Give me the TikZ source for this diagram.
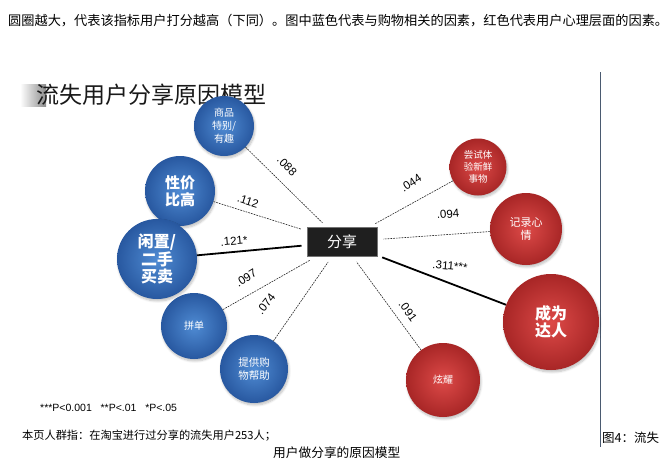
\documentclass[tikz,border=0pt]{standalone}
\usepackage{fontspec}
\setmainfont{Noto Sans CJK SC}
\newfontfamily\latf{Liberation Sans}
\usetikzlibrary{shadows.blur}
\definecolor{blueL}{HTML}{4F8BD3}
\definecolor{blueD}{HTML}{2858A0}
\definecolor{redL}{HTML}{DD4A48}
\definecolor{redD}{HTML}{A82626}
\definecolor{vline}{HTML}{4A5A70}
\newcommand\fsz[2]{\fontsize{#1}{#2}\selectfont}
\begin{document}
\begin{tikzpicture}[x=1pt,y=-1pt,
  ball/.style={circle, inner sep=0pt, text=white, align=center,
     blur shadow={shadow blur steps=6, shadow xshift=1pt, shadow yshift=-2pt, shadow opacity=25}},
  bluec/.style={ball, inner color=blueL, outer color=blueD, minimum size=#1},
  redc/.style={ball, inner color=redL, outer color=redD, minimum size=#1},
  weak/.style={draw=black!85, line width=0.6pt, dash pattern=on 1.8pt off 1pt, shorten >=6pt},
  strong/.style={draw=black, line width=1.8pt, shorten >=5pt},
  lab/.style={font=\latf\fsz{11.5}{13}, inner sep=0pt},
  txt/.style={inner sep=0pt, anchor=west}
]
\useasboundingbox (0,0) rectangle (667,474);

% header text
\node[txt, font=\fsz{13.2}{15}] (hdr) at (8,21) {圆圈越大，代表该指标用户打分越高（下同）。图中蓝色代表与购物相关的因素，红色代表用户心理层面的因素。};

% title with grey brush stroke
\fill[left color=white, right color=black!45] (20,84) rectangle (46,106);
\node[txt, font=\fsz{23}{25}, text=black!90] (title) at (36,95) {流失用户分享原因模型};

% vertical rule
\draw[vline, line width=1pt] (600,72) -- (600,447);

% centre box
\node[draw=black!55, line width=1pt, fill=black!88, text=white, font=\fsz{15}{17},
      minimum width=70pt, minimum height=29pt, inner sep=0pt] (box) at (342,242) {分享};

% blue circles
\node[bluec=60pt, font=\fsz{10}{13}] (c1) at (224,126) {商品\\特别/\\有趣};
\node[bluec=70pt, font=\bfseries\fsz{15}{17}] (c2) at (180,191) {性价\\比高};
\node[bluec=80pt, font=\bfseries\fsz{16}{17.5}] (c3) at (157,259) {闲置/\\二手\\买卖};
\node[bluec=66pt, font=\fsz{10}{13}] (c4) at (194,326) {拼单};
\node[bluec=68pt, font=\fsz{10.5}{13}] (c5) at (254,369) {提供购\\物帮助};

% red circles
\node[redc=57pt, font=\fsz{9.5}{12}] (c6) at (478,167) {尝试体\\验新鲜\\事物};
\node[redc=72pt, font=\fsz{11}{13}] (c7) at (526,229) {记录心\\情};
\node[redc=96pt, font=\bfseries\fsz{16}{17.5}] (c8) at (551,322) {成为\\达人};
\node[redc=74pt, font=\fsz{10}{13}] (c9) at (443,380) {炫耀};

% connectors
\draw[weak] (c1) -- (box);
\draw[weak] (c2) -- (box);
\draw[strong] (c3) -- (box);
\draw[weak] (c4) -- (box);
\draw[weak] (c5) -- (box);
\draw[weak] (c6) -- (box);
\draw[weak] (c7) -- (box);
\draw[strong] (c8) -- (box);
\draw[weak] (c9) -- (box);

% coefficient labels
\node[lab, rotate=-45] (l1) at (287,166) {.088};
\node[lab, rotate=-18] (l2) at (248,201) {.112};
\node[lab, rotate=5] (l3) at (234,241) {.121*};
\node[lab, rotate=32] (l4) at (246,278) {.097};
\node[lab, rotate=52] (l5) at (266,304) {.074};
\node[lab, rotate=33] (l6) at (411,183) {.044};
\node[lab, rotate=5] (l7) at (448,214) {.094};
\node[lab, rotate=-5] (l8) at (450,266) {.311***};
\node[lab, rotate=-54] (l9) at (408,311) {.091};

% footnotes
\node[txt, font=\latf\fsz{10.5}{12}] (sig) at (40,408) {***P<0.001\ \ \ **P<.01\ \ \ *P<.05};
\node[txt, font=\fsz{11.2}{13}] (note) at (22,436) {本页人群指：在淘宝进行过分享的流失用户253人；};
\node[txt, font=\fsz{12.5}{14}] (fig) at (602,438) {图4：流失};
\node[txt, font=\fsz{12.7}{14}] (cap) at (273,453) {用户做分享的原因模型};
\end{tikzpicture}
\end{document}
